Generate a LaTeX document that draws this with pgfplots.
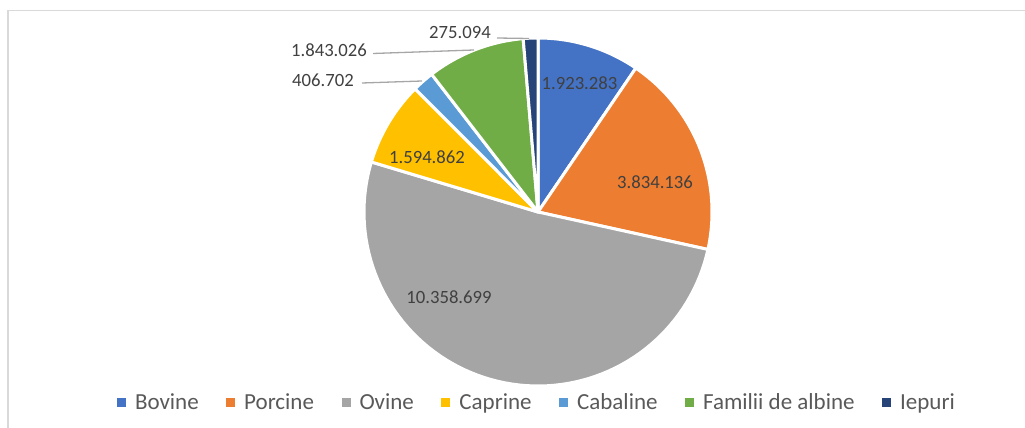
\documentclass[border=0pt]{standalone}
\usepackage{pgfplots}
\usepackage{pgfplotstable}
\usepackage{fontspec}
\setmainfont{Carlito}
\pgfplotsset{compat=1.18}
\definecolor{cBov}{HTML}{4472C4}
\definecolor{cPor}{HTML}{ED7D31}
\definecolor{cOvi}{HTML}{A5A5A5}
\definecolor{cCap}{HTML}{FFC000}
\definecolor{cCab}{HTML}{5B9BD5}
\definecolor{cAlb}{HTML}{70AD47}
\definecolor{cIep}{HTML}{264478}
\definecolor{labtext}{HTML}{404040}
\definecolor{legtext}{HTML}{595959}
\definecolor{leadgray}{HTML}{A6A6A6}
\definecolor{framegray}{HTML}{D9D9D9}

\pgfplotstableread[col sep=comma]{
label,value
Bovine,1923283
Porcine,3834136
Ovine,10358699
Caprine,1594862
Cabaline,406702
Familii de albine,1843026
Iepuri,275094
}\piedata

\newcommand\labfont{\fontsize{18.7}{22}\selectfont}
\newcommand\legfont{\fontsize{23}{28}\selectfont}

\begin{document}
\begin{tikzpicture}
\pgfplotstablegetelem{0}{value}\of\piedata \edef\vA{\pgfplotsretval}
\pgfplotstablegetelem{1}{value}\of\piedata \edef\vB{\pgfplotsretval}
\pgfplotstablegetelem{2}{value}\of\piedata \edef\vC{\pgfplotsretval}
\pgfplotstablegetelem{3}{value}\of\piedata \edef\vD{\pgfplotsretval}
\pgfplotstablegetelem{4}{value}\of\piedata \edef\vE{\pgfplotsretval}
\pgfplotstablegetelem{5}{value}\of\piedata \edef\vF{\pgfplotsretval}
\pgfplotstablegetelem{6}{value}\of\piedata \edef\vG{\pgfplotsretval}
\edef\T{\fpeval{\vA+\vB+\vC+\vD+\vE+\vF+\vG}}
\edef\aA{90}
\edef\aB{\fpeval{\aA-360*\vA/\T}}
\edef\aC{\fpeval{\aB-360*\vB/\T}}
\edef\aD{\fpeval{\aC-360*\vC/\T}}
\edef\aE{\fpeval{\aD-360*\vD/\T}}
\edef\aF{\fpeval{\aE-360*\vE/\T}}
\edef\aG{\fpeval{\aF-360*\vF/\T}}
\edef\aH{\fpeval{\aG-360*\vG/\T}}
\path[use as bounding box] (0,0) rectangle (1025pt,428pt);
\clip (0,0) rectangle (1025pt,428pt);
\begin{axis}[
  at={(0,0)}, anchor=south west,
  x=1pt, y=1pt, xmin=0, xmax=1025, ymin=0, ymax=428,
  scale only axis, hide axis, clip=false,
  legend columns=-1,
  legend image code/.code={\fill[#1,draw=none] (0pt,-4.5pt) rectangle (9pt,4.5pt);},
  legend style={draw=none, fill=none, inner sep=0pt, outer sep=0pt,
    at={(0.11415,0.0607)}, anchor=west,
    nodes={inner sep=0pt, text=legtext, font=\legfont},
    /tikz/every odd column/.style={column sep=9pt},
    /tikz/every even column/.style={column sep=27.5pt}},
  slice/.style={draw=white, line width=3pt, line join=round, samples=80, variable=\t},
]
\draw[framegray, line width=1.5pt] (axis cs:8,-20) -- (axis cs:8,417.5) -- (axis cs:1100,417.5);
\addplot[slice, fill=cBov, domain=\aB:\aA] ({538+174*cos(t)},{216+174*sin(t)}) -- (axis cs:538,216) -- cycle;
\addlegendentry{Bovine}
\addplot[slice, fill=cPor, domain=\aC:\aB] ({538+174*cos(t)},{216+174*sin(t)}) -- (axis cs:538,216) -- cycle;
\addlegendentry{Porcine}
\addplot[slice, fill=cOvi, domain=\aD:\aC] ({538+174*cos(t)},{216+174*sin(t)}) -- (axis cs:538,216) -- cycle;
\addlegendentry{Ovine}
\addplot[slice, fill=cCap, domain=\aE:\aD] ({538+174*cos(t)},{216+174*sin(t)}) -- (axis cs:538,216) -- cycle;
\addlegendentry{Caprine}
\addplot[slice, fill=cCab, domain=\aF:\aE] ({538+174*cos(t)},{216+174*sin(t)}) -- (axis cs:538,216) -- cycle;
\addlegendentry{Cabaline}
\addplot[slice, fill=cAlb, domain=\aG:\aF] ({538+174*cos(t)},{216+174*sin(t)}) -- (axis cs:538,216) -- cycle;
\addlegendentry{Familii de albine}
\addplot[slice, fill=cIep, domain=\aH:\aG] ({538+174*cos(t)},{216+174*sin(t)}) -- (axis cs:538,216) -- cycle;
\addlegendentry{Iepuri}
% leader lines
\draw[leadgray, line width=1.3pt] (axis cs:362,345) -- (axis cs:422,347);
\draw[leadgray, line width=1.3pt] (axis cs:373,374.5) -- (axis cs:474,378);
\draw[leadgray, line width=1.3pt] (axis cs:497,390) -- (axis cs:529,389.5);
% data labels
\node[text=labtext, font=\labfont, inner sep=0pt] at (axis cs:579.5,345) {1.923.283};
\node[text=labtext, font=\labfont, inner sep=0pt] at (axis cs:655,246) {3.834.136};
\node[text=labtext, font=\labfont, inner sep=0pt] at (axis cs:449,131) {10.358.699};
\node[text=labtext, font=\labfont, inner sep=0pt] at (axis cs:427,271) {1.594.862};
\node[text=labtext, font=\labfont, inner sep=0pt] at (axis cs:323,348) {406.702};
\node[text=labtext, font=\labfont, inner sep=0pt] at (axis cs:329,378) {1.843.026};
\node[text=labtext, font=\labfont, inner sep=0pt] at (axis cs:460,395) {275.094};
\end{axis}
\end{tikzpicture}
\end{document}
